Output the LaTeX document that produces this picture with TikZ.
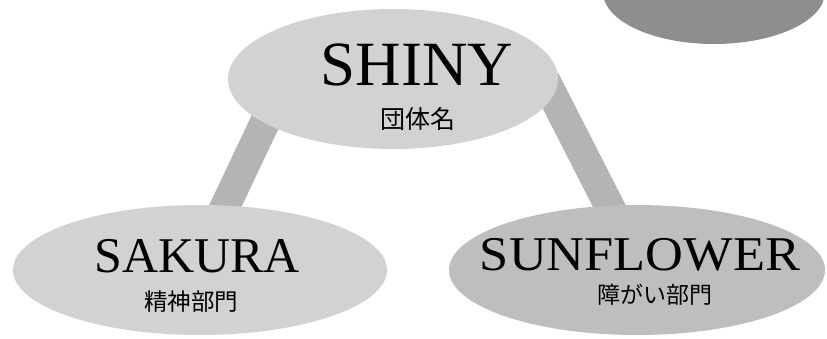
\documentclass[tikz,border=0pt]{standalone}
\usepackage{fontspec}
\setmainfont{Liberation Serif}
\newfontfamily\jp{Noto Sans CJK JP}
\usetikzlibrary{shapes.geometric}
\definecolor{lightfill}{HTML}{D2D2D2}
\definecolor{midfill}{HTML}{BEBEBE}
\definecolor{darkfill}{HTML}{8E8E8E}
\definecolor{barfill}{HTML}{B4B4B4}
\tikzset{
  oval/.style={ellipse, inner sep=0pt, draw=none},
  bar/.style={line width=30pt, color=barfill},
  title/.style={inner sep=0pt, anchor=base},
  sub/.style={inner sep=0pt, anchor=center}
}
\begin{document}
\begin{tikzpicture}[x=1pt, y=-1pt]
\useasboundingbox (0,0) rectangle (827,338);
% top-right partial shape
\node[oval, fill=darkfill, minimum width=222pt, minimum height=104pt] (corner) at (714,-8) {};
% connectors
\coordinate (barL) at (285,80);
\coordinate (barR) at (545,80);
\coordinate (endL) at (195,270);
\coordinate (endR) at (642,270);
\draw[bar] (barL) -- (endL);
\draw[bar] (barR) -- (endR);
% ellipses
\node[oval, fill=lightfill, minimum width=330pt, minimum height=140pt] (shiny) at (393,79) {};
\node[oval, fill=lightfill, minimum width=374pt, minimum height=130pt] (sakura) at (200,270) {};
\node[oval, fill=midfill, minimum width=376pt, minimum height=130pt] (sunflower) at (637,270) {};
% texts
\node[title, font=\fontsize{63}{63}\selectfont] (t1) at (417,85) {SHINY};
\node[sub, font=\jp\fontsize{25}{25}\selectfont] (s1) at (418,119) {団体名};
\node[title, font=\fontsize{50}{50}\selectfont] (t2) at (197,272) {SAKURA};
\node[sub, font=\jp\fontsize{23.5}{23.5}\selectfont] (s2) at (191,302) {精神部門};
\node[title, transform shape, xscale=1.08, font=\fontsize{48.5}{48.5}\selectfont] (t3) at (640,270) {SUNFLOWER};
\node[sub, font=\jp\fontsize{23}{23}\selectfont] (s3) at (655,295) {障がい部門};
\end{tikzpicture}
\end{document}
